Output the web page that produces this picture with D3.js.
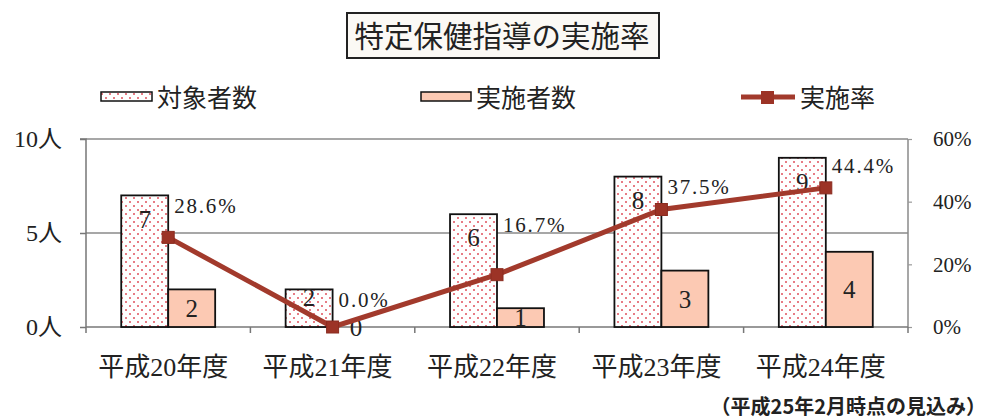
<!DOCTYPE html>
<html>
<head>
<meta charset="utf-8">
<script src="https://cdn.jsdelivr.net/npm/d3@7"></script>
<style>
  body { margin: 0; background: #fff; }
  svg text { fill: #222; }
</style>
</head>
<body>
<div id="vis"></div>
<script>
// Chart data
const categories = ['平成20年度', '平成21年度', '平成22年度', '平成23年度', '平成24年度'];
const targetCounts = [7, 2, 6, 8, 9];
const doneCounts = [2, 0, 1, 3, 4];
const rates = [28.6, 0.0, 16.7, 37.5, 44.4];
const countTicks = [0, 5, 10];
const rateTicks = [0, 20, 40, 60];

const width = 990;
const height = 419;
const margin = { top: 139, left: 86, right: 82, bottom: 92 };

const serif = "'Liberation Serif', 'Noto Sans CJK JP', serif";
const jp = "'Noto Sans CJK JP', sans-serif";
const lineColor = '#a23a2c';
const doneColor = '#fcc9b3';

let svg = d3.select('#vis')
    .append('svg')
    .attr('width', width)
    .attr('height', height);

// dotted pattern for 対象者数
let pat = svg.append('defs').append('pattern')
    .attr('id', 'dots')
    .attr('patternUnits', 'userSpaceOnUse')
    .attr('width', 8)
    .attr('height', 8);
pat.append('rect').attr('width', 8).attr('height', 8).attr('fill', '#fff');
pat.append('circle').attr('cx', 2).attr('cy', 2).attr('r', 1).attr('fill', '#e0505c');
pat.append('circle').attr('cx', 6).attr('cy', 6).attr('r', 1).attr('fill', '#e0505c');

// scales
let xScale = d3.scaleBand()
    .domain(categories)
    .range([margin.left, width - margin.right])
    .padding(0);

let xSub = d3.scaleBand()
    .domain(['target', 'done'])
    .range([0, xScale.bandwidth()])
    .paddingInner(0)
    .paddingOuter(0.75);

let yScale = d3.scaleLinear().domain([0, 10]).range([height - margin.bottom, margin.top]);
let rScale = d3.scaleLinear().domain([0, 60]).range([height - margin.bottom, margin.top]);

const x0 = margin.left, x1 = width - margin.right;
const yBottom = yScale(0), yTop = yScale(10);

// Title box
svg.append('rect')
    .attr('x', 347).attr('y', 13)
    .attr('width', 312).attr('height', 45)
    .attr('fill', '#fbf9f5')
    .attr('stroke', '#222')
    .attr('stroke-width', 2);
svg.append('text')
    .attr('x', 502).attr('y', 36)
    .attr('dy', '0.36em')
    .attr('text-anchor', 'middle')
    .attr('font-family', jp)
    .attr('font-size', 29.5)
    .text('特定保健指導の実施率');

// plot frame & grid
svg.append('g')
    .selectAll('line')
    .data(countTicks.filter(d => d > 0))
    .join('line')
    .attr('x1', x0).attr('x2', x1)
    .attr('y1', d => yScale(d)).attr('y2', d => yScale(d))
    .attr('stroke', '#8a8a8a')
    .attr('stroke-width', 1.5);
svg.append('line')
    .attr('x1', x1).attr('x2', x1)
    .attr('y1', yTop).attr('y2', yBottom)
    .attr('stroke', '#8a8a8a')
    .attr('stroke-width', 1.5);

// Left axis
let yaxis = d3.axisLeft(yScale)
    .tickValues(countTicks)
    .tickFormat(d => d + '人')
    .tickSize(6)
    .tickPadding(18);
svg.append('g')
    .attr('class', 'y axis')
    .attr('transform', `translate(${x0},0)`)
    .call(yaxis)
    .call(g => g.select('.domain').attr('d', `M-6,${yTop}H0V${yBottom + 6}`))
    .call(g => g.selectAll('path, line').attr('stroke', '#777').attr('stroke-width', 1.5))
    .call(g => g.selectAll('text')
        .attr('font-family', serif)
        .attr('font-size', 24)
        .attr('fill', '#222'));

// Right axis
let raxis = d3.axisRight(rScale)
    .tickValues(rateTicks)
    .tickFormat(d => d + '%')
    .tickSize(4)
    .tickPadding(21);
svg.append('g')
    .attr('class', 'r axis')
    .attr('transform', `translate(${x1},0)`)
    .call(raxis)
    .call(g => g.select('.domain').remove())
    .call(g => g.selectAll('line').attr('stroke', '#999').attr('stroke-width', 1.2))
    .call(g => g.selectAll('text')
        .attr('font-family', serif)
        .attr('font-size', 21)
        .attr('fill', '#222'));

// Bottom axis
let xaxis = d3.axisBottom(xScale).tickSize(0).tickPadding(46);
svg.append('g')
    .attr('class', 'x axis')
    .attr('transform', `translate(0,${yBottom})`)
    .call(xaxis)
    .call(g => g.select('.domain').attr('d', `M${x0},0H${x1}`).attr('stroke', '#777').attr('stroke-width', 1.5))
    .call(g => g.selectAll('text')
        .attr('x', -5)
        .attr('dy', '0.12em')
        .attr('font-family', serif)
        .attr('font-size', 26)
        .attr('fill', '#222'));
// boundary ticks
svg.append('g')
    .selectAll('line')
    .data(categories.slice(1).concat(['end']))
    .join('line')
    .attr('x1', d => d === 'end' ? x1 : xScale(d))
    .attr('x2', d => d === 'end' ? x1 : xScale(d))
    .attr('y1', yBottom).attr('y2', yBottom + 6)
    .attr('stroke', '#777')
    .attr('stroke-width', 1.5);

// Bars
const rows = categories.map((c, i) => ({ cat: c, target: targetCounts[i], done: doneCounts[i], rate: rates[i] }));

svg.append('g')
    .selectAll('rect')
    .data(rows)
    .join('rect')
    .attr('x', d => xScale(d.cat) + xSub('target'))
    .attr('y', d => yScale(d.target))
    .attr('width', xSub.bandwidth())
    .attr('height', d => yBottom - yScale(d.target))
    .attr('fill', 'url(#dots)')
    .attr('stroke', '#111')
    .attr('stroke-width', 1.8);

svg.append('g')
    .selectAll('rect')
    .data(rows)
    .join('rect')
    .attr('x', d => xScale(d.cat) + xSub('done'))
    .attr('y', d => yScale(d.done))
    .attr('width', xSub.bandwidth())
    .attr('height', d => yBottom - yScale(d.done))
    .attr('fill', doneColor)
    .attr('stroke', '#111')
    .attr('stroke-width', 1.8);

// Bar value labels
svg.append('g')
    .selectAll('text')
    .data(rows)
    .join('text')
    .attr('x', d => xScale(d.cat) + xSub('target') + xSub.bandwidth() / 2)
    .attr('y', d => yScale(d.target) + Math.min(24, (yBottom - yScale(d.target)) * 0.2))
    .attr('dy', '0.35em')
    .attr('text-anchor', 'middle')
    .attr('font-family', serif)
    .attr('font-size', 25)
    .text(d => d.target);

svg.append('g')
    .selectAll('text')
    .data(rows)
    .join('text')
    .attr('x', d => xScale(d.cat) + xSub('done') + xSub.bandwidth() / 2)
    .attr('y', d => (yScale(d.done) + yBottom) / 2)
    .attr('dy', '0.35em')
    .attr('text-anchor', 'middle')
    .attr('font-family', serif)
    .attr('font-size', 25)
    .text(d => d.done);

// Rate line
let cx = d => xScale(d.cat) + xScale.bandwidth() / 2;
svg.append('path')
    .datum(rows)
    .attr('fill', 'none')
    .attr('stroke', lineColor)
    .attr('stroke-width', 5)
    .attr('d', d3.line().x(cx).y(d => rScale(d.rate)));

svg.append('g')
    .selectAll('rect')
    .data(rows)
    .join('rect')
    .attr('x', d => cx(d) - 6)
    .attr('y', d => rScale(d.rate) - 6)
    .attr('width', 12).attr('height', 12)
    .attr('fill', '#9c3326')
    .attr('stroke', '#8a2c20')
    .attr('stroke-width', 1);

// Rate labels
svg.append('g')
    .selectAll('text')
    .data(rows)
    .join('text')
    .attr('x', d => cx(d) + 6)
    .attr('y', d => Math.min(rScale(d.rate) - 22, yScale(d.target) + 10))
    .attr('dy', '0.35em')
    .attr('font-family', serif)
    .attr('font-size', 21)
    .attr('letter-spacing', 1.8)
    .text(d => d.rate.toFixed(1) + '%');

// Legend
let legend = svg.append('g').attr('font-family', jp).attr('font-size', 25);
legend.append('rect').attr('x', 101).attr('y', 92).attr('width', 51).attr('height', 9)
    .attr('fill', 'url(#dots)').attr('stroke', '#111').attr('stroke-width', 1.5);
legend.append('text').attr('x', 157).attr('y', 98).attr('dy', '0.36em').text('対象者数');
legend.append('rect').attr('x', 421).attr('y', 92).attr('width', 50).attr('height', 9)
    .attr('fill', doneColor).attr('stroke', '#111').attr('stroke-width', 1.5);
legend.append('text').attr('x', 476).attr('y', 98).attr('dy', '0.36em').text('実施者数');
legend.append('line').attr('x1', 741).attr('x2', 795).attr('y1', 97).attr('y2', 97)
    .attr('stroke', lineColor).attr('stroke-width', 5);
legend.append('rect').attr('x', 761).attr('y', 91).attr('width', 13).attr('height', 13)
    .attr('fill', '#9c3326');
legend.append('text').attr('x', 800).attr('y', 98).attr('dy', '0.36em').text('実施率');

// Footnote
svg.append('text')
    .attr('x', 986).attr('y', 407)
    .attr('dy', '0.36em')
    .attr('text-anchor', 'end')
    .attr('font-family', jp)
    .attr('font-weight', 'bold')
    .attr('font-size', 20)
    .text('（平成25年2月時点の見込み）');
</script>
</body>
</html>
